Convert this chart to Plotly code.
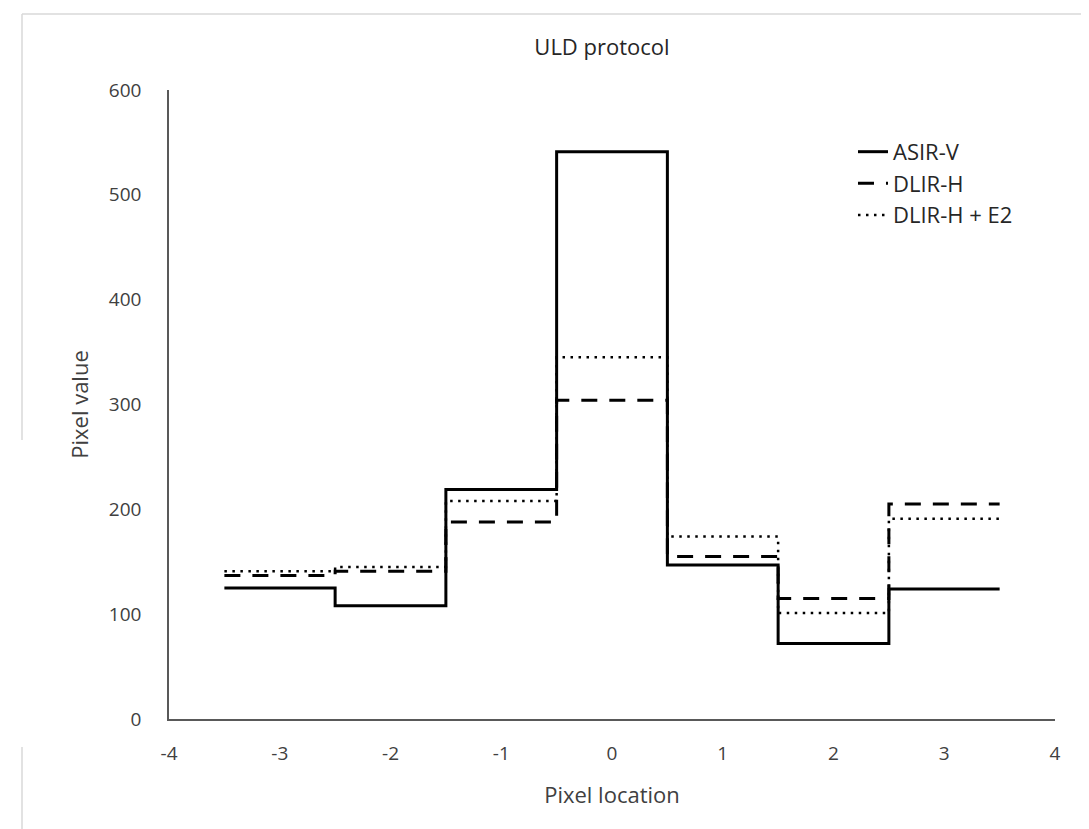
import plotly.graph_objects as go

# Data
pixel_location = [-3, -2, -1, 0, 1, 2, 3]
asir_v = [125, 108, 219, 541, 147, 72, 124]
dlir_h = [137, 141, 188, 304, 155, 115, 205]
dlir_h_e2 = [141, 145, 208, 345, 174, 101, 191]

series_names = ["ASIR-V", "DLIR-H", "DLIR-H + E2"]
x_ticks = [-4, -3, -2, -1, 0, 1, 2, 3, 4]
y_ticks = [0, 100, 200, 300, 400, 500, 600]

# step edges: each pixel spans +/- 0.5 around its location
edges = [p - 0.5 for p in pixel_location] + [pixel_location[-1] + 0.5]


def step_vals(v):
    return list(v) + [v[-1]]


styles = [
    dict(color="black", width=3, dash="solid"),
    dict(color="black", width=3, dash="16px,12px"),
    dict(color="black", width=2.5, dash="2.5px,5.5px"),
]

fig = go.Figure()
for name, vals, st in zip(series_names, [asir_v, dlir_h, dlir_h_e2], styles):
    fig.add_trace(go.Scatter(
        x=edges, y=step_vals(vals), mode="lines", name=name,
        line=dict(shape="hv", **st),
    ))

# page body has an 8px margin, so figure is 8px smaller and shifted
W, H = 1081, 821
L, R, T, B = 161, 34, 82, 110
font_family = "Open Sans, Noto Sans, sans-serif"
fig.update_layout(
    width=W, height=H,
    margin=dict(l=L, r=R, t=T, b=B),
    paper_bgcolor="white", plot_bgcolor="white",
    font=dict(family=font_family, size=19, color="#404040"),
    title=dict(text="ULD protocol", x=594 / W, xref="container", xanchor="center",
               y=1 - 39 / H, yref="container", yanchor="middle",
               font=dict(size=22, color="#262626")),
    showlegend=True,
    legend=dict(x=0.772, y=0.935, xanchor="left", yanchor="top",
                bgcolor="rgba(0,0,0,0)", tracegroupgap=0,
                font=dict(size=22, color="#262626")),
    xaxis=dict(range=[-4, 4], tickvals=x_ticks, ticktext=[str(t) for t in x_ticks],
               showgrid=False, zeroline=False, showline=True, linecolor="#595959", linewidth=1.5,
               ticks="", ticklabelstandoff=16,
               title=dict(text="Pixel location", standoff=23, font=dict(size=22, color="#404040"))),
    yaxis=dict(range=[0, 600], tickvals=y_ticks, ticktext=[str(t) for t in y_ticks],
               showgrid=False, zeroline=False, showline=True, linecolor="#595959", linewidth=1.5,
               ticks="", ticklabelstandoff=22,
               title=dict(text="Pixel value", standoff=14, font=dict(size=22, color="#404040"))),
)

PW = W - L - R
PH = H - T - B
fx = lambda px: (px - 8 - L) / PW
fy = lambda py: (H - B - (py - 8)) / PH

# faint screenshot frame lines
fig.add_shape(type="line", xref="paper", yref="paper", x0=fx(22), x1=fx(1089), y0=fy(14), y1=fy(14),
              line=dict(color="#d9d9d9", width=1.5))
fig.add_shape(type="line", xref="paper", yref="paper", x0=fx(22), x1=fx(22), y0=fy(440), y1=fy(14),
              line=dict(color="#d9d9d9", width=1.5))
fig.add_shape(type="line", xref="paper", yref="paper", x0=fx(22), x1=fx(22), y0=fy(829), y1=fy(747),
              line=dict(color="#d9d9d9", width=1.5))

fig.write_html("out.html")
